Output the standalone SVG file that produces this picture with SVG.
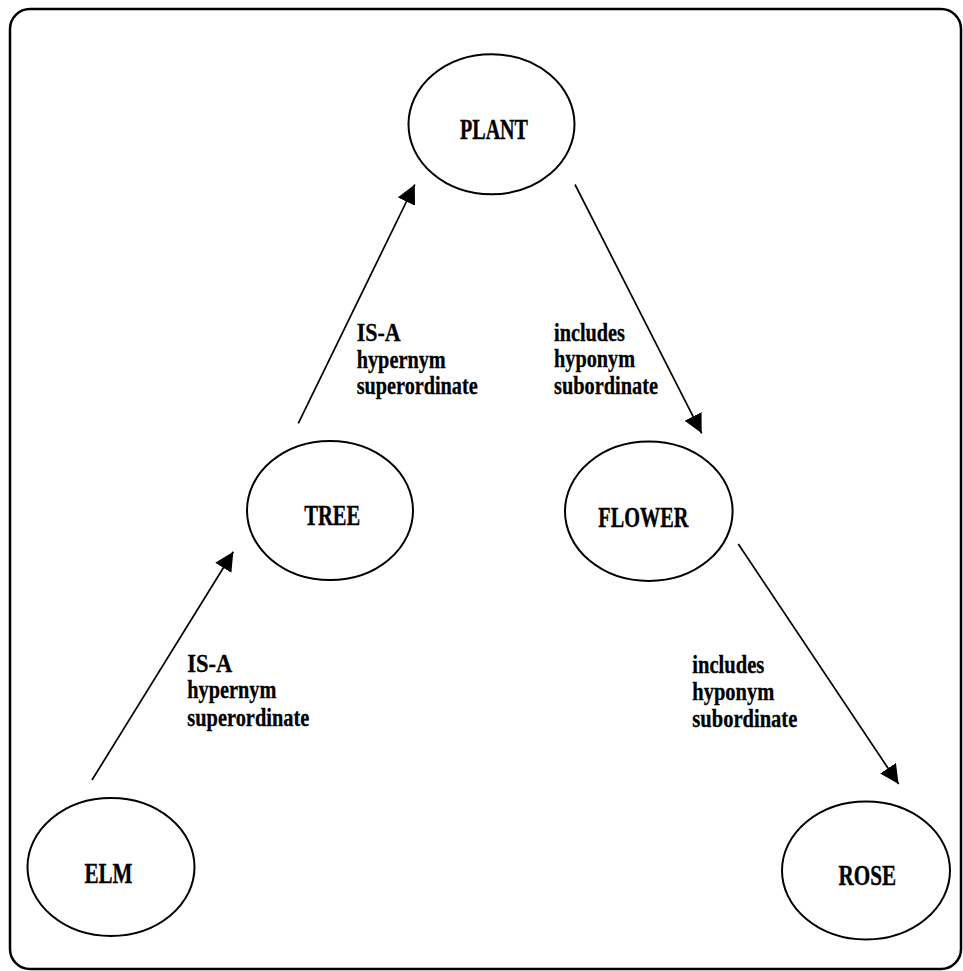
<svg xmlns="http://www.w3.org/2000/svg" width="963" height="971" viewBox="0 0 963 971">
  <style>
    .node ellipse { fill: #ffffff; stroke: #000000; stroke-width: 2; }
    .node text { font-family: "Liberation Serif", "Times New Roman", serif; font-weight: bold; font-size: 30px; fill: #000000; stroke: #000000; stroke-width: 0.4; }
    .edge line { stroke: #000000; stroke-width: 1.7; fill: none; }
    .lbl { font-family: "Liberation Serif", "Times New Roman", serif; font-weight: bold; font-size: 25px; fill: #000000; stroke: #000000; stroke-width: 0.3; }
  </style>
  <defs>
    <marker id="arrow" viewBox="0 0 19 19" markerUnits="userSpaceOnUse" markerWidth="19" markerHeight="19" refX="19" refY="9.5" orient="auto">
      <path d="M0,0 L19,9.5 L0,19 Z" fill="#000000"/>
    </marker>
  </defs>
  <rect x="0" y="0" width="963" height="971" fill="#ffffff"/>
  <rect id="frame" x="10" y="9" width="951" height="960" rx="20" ry="20" fill="none" stroke="#000000" stroke-width="2.5"/>

  <g id="connectors" class="edge">
    <line x1="92" y1="780" x2="233.3" y2="551.7" marker-end="url(#arrow)"/>
    <line x1="298.3" y1="423.3" x2="414.8" y2="184.5" marker-end="url(#arrow)"/>
    <line x1="575" y1="184.5" x2="701.7" y2="433.3" marker-end="url(#arrow)"/>
    <line x1="738.3" y1="544" x2="898.6" y2="784" marker-end="url(#arrow)"/>
  </g>

  <g id="edge-labels">
    <g id="label-tree-plant">
      <text class="lbl" x="356.7" y="341" textLength="44" lengthAdjust="spacingAndGlyphs">IS-A</text>
      <text class="lbl" x="356.7" y="367.5" textLength="89" lengthAdjust="spacingAndGlyphs">hypernym</text>
      <text class="lbl" x="356.7" y="393.5" textLength="121" lengthAdjust="spacingAndGlyphs">superordinate</text>
    </g>
    <g id="label-plant-flower">
      <text class="lbl" x="554" y="341" textLength="71" lengthAdjust="spacingAndGlyphs">includes</text>
      <text class="lbl" x="554" y="367" textLength="81" lengthAdjust="spacingAndGlyphs">hyponym</text>
      <text class="lbl" x="554" y="394" textLength="104" lengthAdjust="spacingAndGlyphs">subordinate</text>
    </g>
    <g id="label-elm-tree">
      <text class="lbl" x="187.3" y="671.7" textLength="45" lengthAdjust="spacingAndGlyphs">IS-A</text>
      <text class="lbl" x="187.3" y="698.3" textLength="89" lengthAdjust="spacingAndGlyphs">hypernym</text>
      <text class="lbl" x="187.3" y="725.5" textLength="122" lengthAdjust="spacingAndGlyphs">superordinate</text>
    </g>
    <g id="label-flower-rose">
      <text class="lbl" x="692.3" y="673.3" textLength="72" lengthAdjust="spacingAndGlyphs">includes</text>
      <text class="lbl" x="692.3" y="700" textLength="82" lengthAdjust="spacingAndGlyphs">hyponym</text>
      <text class="lbl" x="692.3" y="727" textLength="105" lengthAdjust="spacingAndGlyphs">subordinate</text>
    </g>
  </g>

  <g id="node-plant" class="node">
    <ellipse cx="491.5" cy="124.3" rx="83" ry="70"/>
    <text x="460" y="139" textLength="68" lengthAdjust="spacingAndGlyphs">PLANT</text>
  </g>
  <g id="node-tree" class="node">
    <ellipse cx="330" cy="510.5" rx="83" ry="69.5"/>
    <text x="304.3" y="525.3" textLength="56" lengthAdjust="spacingAndGlyphs">TREE</text>
  </g>
  <g id="node-flower" class="node">
    <ellipse cx="648.8" cy="511.3" rx="83.8" ry="69.7"/>
    <text x="598.3" y="526.7" textLength="90" lengthAdjust="spacingAndGlyphs">FLOWER</text>
  </g>
  <g id="node-elm" class="node">
    <ellipse cx="111" cy="867" rx="83.5" ry="69"/>
    <text x="84.5" y="882.5" textLength="48" lengthAdjust="spacingAndGlyphs">ELM</text>
  </g>
  <g id="node-rose" class="node">
    <ellipse cx="866" cy="870.5" rx="84" ry="69"/>
    <text x="838.5" y="885.3" textLength="57.5" lengthAdjust="spacingAndGlyphs">ROSE</text>
  </g>
</svg>
